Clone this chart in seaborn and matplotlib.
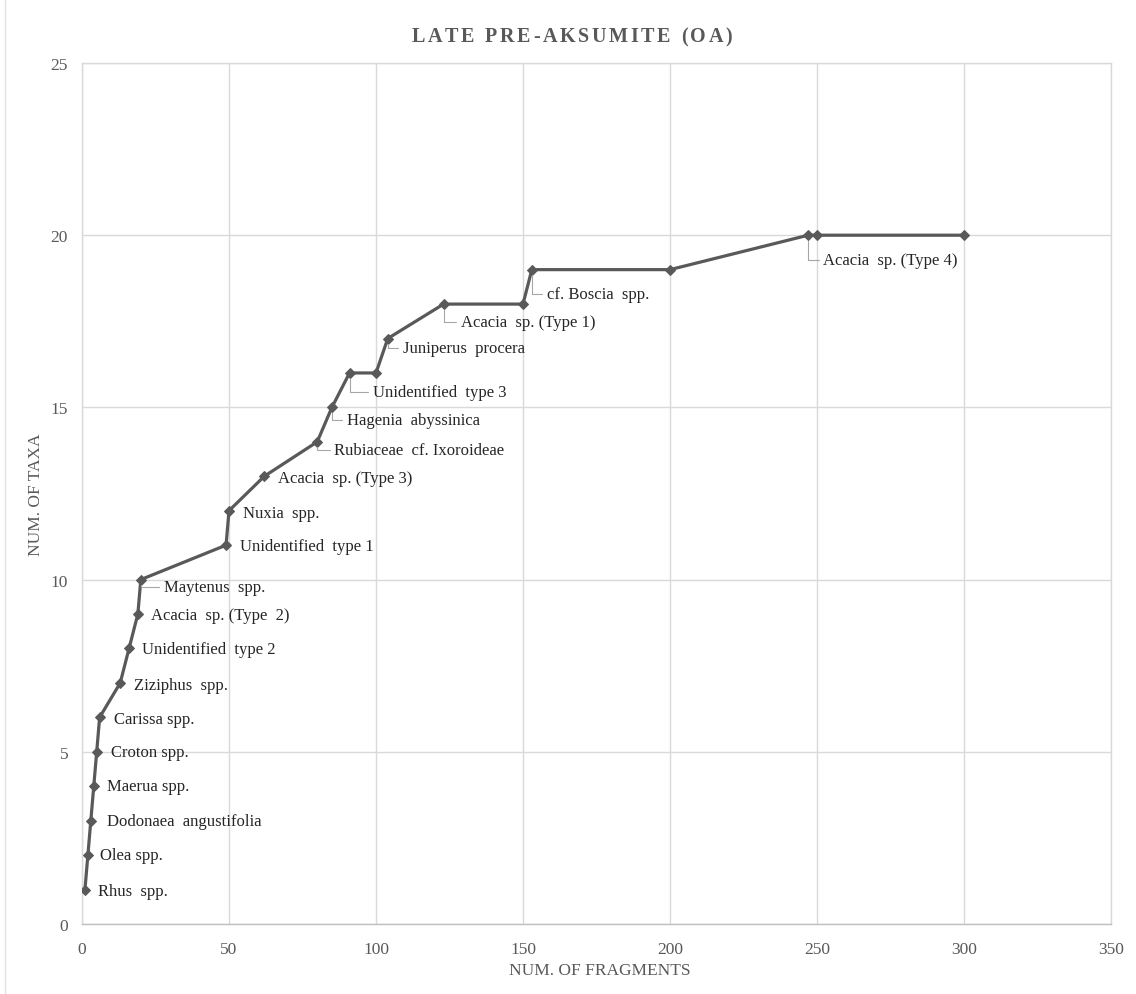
import matplotlib
matplotlib.use("Agg")
import matplotlib.pyplot as plt
import seaborn as sns
import pandas as pd

# Cumulative taxa count against number of charcoal fragments examined
fragments = [1, 2, 3, 4, 5, 6, 13, 16, 19, 20, 49, 50, 62, 80, 85, 91, 100,
             104, 123, 150, 153, 200, 247, 250, 300]
taxa = [1, 2, 3, 4, 5, 6, 7, 8, 9, 10, 11, 12, 13, 14, 15, 16, 16,
        17, 18, 18, 19, 19, 20, 20, 20]
taxon_names = [
    "Rhus  spp.", "Olea spp.", "Dodonaea  angustifolia", "Maerua spp.",
    "Croton spp.", "Carissa spp.", "Ziziphus  spp.", "Unidentified  type 2",
    "Acacia  sp. (Type  2)", "Maytenus  spp.", "Unidentified  type 1",
    "Nuxia  spp.", "Acacia  sp. (Type 3)", "Rubiaceae  cf. Ixoroideae",
    "Hagenia  abyssinica", "Unidentified  type 3", "",
    "Juniperus  procera", "Acacia  sp. (Type 1)", "", "cf. Boscia  spp.", "",
    "Acacia  sp. (Type 4)", "", "",
]

# Label placement (pixel offsets from each point) and whether a leader line is drawn
label_offsets = [
    (13, -1), (12, 0), (16, 0), (13, 0), (14, 0), (14, -2), (14, -2), (13, -1),
    (13, -1), (23, -7), (14, -1), (14, -2), (14, -2), (17, -8), (15, -13),
    (23, -19), None, (15, -9), (17, -18), None, (15, -24), None, (15, -25),
    None, None,
]
leaders = [False] * 9 + [True] + [False] * 3 + [True] * 3 + [False] + [True] * 2 \
    + [False] + [True] + [False] + [True] + [False, False]

df = pd.DataFrame({"fragments": fragments, "taxa": taxa})

sns.set_style("white")
plt.rcParams["font.family"] = ["Liberation Serif", "DejaVu Serif"]

W, H = 1136, 995
fig = plt.figure(figsize=(W / 100, H / 100), dpi=100)
ax = fig.add_axes([82 / W, 1 - 925 / H, (1111 - 82) / W, (925 - 64) / H])

line_color = "#595959"
sns.lineplot(data=df, x="fragments", y="taxa", sort=False, estimator=None,
             color=line_color, linewidth=2.3, marker="D", markersize=5.5,
             markeredgecolor=line_color, markerfacecolor=line_color, ax=ax,
             zorder=3)

ax.set_xlim(0, 350)
ax.set_ylim(0, 25)
ax.set_xticks(range(0, 351, 50))
ax.set_yticks(range(0, 26, 5))
ax.grid(True, color="#d9d9d9", linewidth=1)
for name, sp in ax.spines.items():
    sp.set_visible(True)
    sp.set_color("#d9d9d9")
    sp.set_linewidth(1)
ax.spines["bottom"].set_color("#bfbfbf")
ax.tick_params(axis="both", length=0, colors="#595959", labelsize=12.5)
ax.tick_params(axis="y", pad=10)
ax.tick_params(axis="x", pad=12)

ax.set_xlabel("NUM. OF FRAGMENTS", fontsize=12.5, color="#595959")
ax.set_ylabel("NUM. OF TAXA", fontsize=12.5, color="#595959")
ax.xaxis.set_label_coords(0.503, -0.044)
ax.yaxis.set_label_coords(-0.037, 0.5)

for xv, yv, name, off, lead in zip(fragments, taxa, taxon_names, label_offsets, leaders):
    if not name:
        continue
    kw = {}
    if lead:
        kw["arrowprops"] = dict(arrowstyle="-", color="#a6a6a6", lw=0.8,
                                shrinkA=1, shrinkB=4,
                                connectionstyle="angle,angleA=180,angleB=90,rad=0")
    ax.annotate(name, xy=(xv, yv), xytext=off, textcoords="offset pixels",
                ha="left", va="center", fontsize=12, color="#262626",
                zorder=4, **kw)

# Letter-spaced title, laid out one glyph at a time
title = "LATE PRE-AKSUMITE (OA)"
tracking = 2.6  # extra pixels between glyphs
title_kw = dict(fontsize=14.5, fontweight="bold", color="#595959",
                va="center", ha="left")
renderer = fig.canvas.get_renderer()
widths = []
for ch in title:
    t = fig.text(0, 0, ch if ch != " " else "n", **title_kw)
    w = t.get_window_extent(renderer).width
    if ch == " ":
        w *= 0.5
    widths.append(w)
    t.remove()
total = sum(widths) + tracking * (len(title) - 1)
x0 = W * 0.5035 - total / 2
ty = 1 - 37 / H
for ch, w in zip(title, widths):
    if ch != " ":
        fig.text(x0 / W, ty, ch, **title_kw)
    x0 += w + tracking

# thin chart-area border on the left
fig.add_artist(plt.Line2D([5 / W, 5 / W], [0, 1], color="#e3e3e3", lw=1,
                          transform=fig.transFigure))

fig.savefig("out.png", dpi=100, facecolor="white")
